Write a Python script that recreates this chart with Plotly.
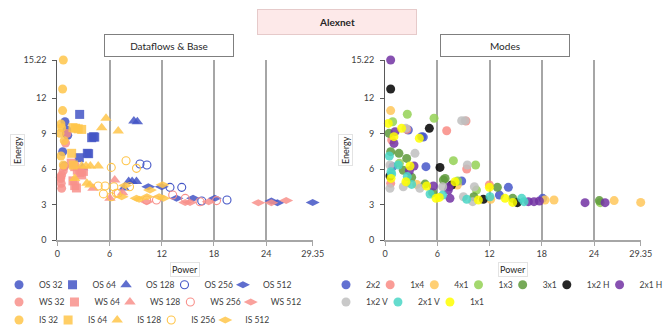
import plotly.graph_objects as go

# ---------------- Left panel: Dataflows & Base ----------------
os32_x = [0.88, 1.1, 1.2, 1.05, 0.62, 0.8]
os32_y = [10.0, 9.3, 8.85, 9.0, 7.46, 6.25]
os64_x = [2.57, 3.95, 4.14, 4.3, 3.45, 3.6, 2.53]
os64_y = [10.62, 8.65, 8.73, 8.7, 7.33, 7.3, 6.96]
os128_x = [8.8, 9.2, 8.2, 8.6, 9.1, 7.66, 2.9]
os128_y = [10.06, 10.0, 4.95, 4.95, 4.95, 4.4, 6.1]
os256_x = [9.5, 10.3, 12.95, 14.3, 16.6, 19.5]
os256_y = [6.43, 6.34, 4.45, 4.45, 3.3, 3.38]
os512_x = [10.46, 12.0, 13.7, 15.6, 18.1, 24.6, 25.3, 29.35]
os512_y = [4.5, 4.5, 3.52, 3.52, 3.52, 3.3, 3.16, 3.18]

ws32_x = [1.1, 0.95, 0.5, 0.45, 0.4, 0.5, 0.69, 0.8, 0.35]
ws32_y = [9.0, 8.2, 4.37, 4.79, 5.2, 5.5, 5.86, 6.2, 5.3]
ws64_x = [1.6, 2.0, 2.3, 2.6, 1.8, 2.0, 2.2, 2.8, 3.0]
ws64_y = [6.5, 6.2, 5.9, 5.7, 5.0, 4.6, 4.4, 5.5, 5.8]
ws128_x = [4.1, 6.6, 6.05, 7.5]
ws128_y = [4.37, 5.07, 3.52, 4.0]
ws256_x = [13.26, 14.7, 10.27, 11.4, 16.4, 18.3, 7.0]
ws256_y = [3.8, 3.52, 3.38, 3.38, 3.24, 3.33, 3.95]
ws512_x = [10.27, 14.7, 15.25, 17.4, 23.1, 24.6, 26.3]
ws512_y = [3.24, 3.18, 3.18, 3.24, 3.16, 3.16, 3.33]

is32_x = [0.69, 0.61, 0.61, 0.42, 0.31, 0.8, 0.42, 0.69, 0.5]
is32_y = [15.22, 12.77, 10.94, 9.81, 9.02, 8.4, 7.1, 6.34, 9.5]
is64_x = [1.8, 2.1, 2.4, 2.8, 1.65, 1.84]
is64_y = [9.5, 9.45, 9.4, 9.35, 7.33, 6.34]
is128_x = [5.6, 5.1, 7.0, 2.8, 3.3, 3.8, 4.7, 2.0, 3.4, 3.75]
is128_y = [10.29, 9.5, 9.21, 6.25, 6.25, 6.25, 6.25, 5.2, 4.8, 4.65]
is256_x = [4.7, 5.3, 5.5, 6.2, 6.5, 6.2, 7.9, 9.1, 8.3, 6.8]
is256_y = [4.57, 3.9, 4.57, 3.66, 4.5, 6.14, 6.7, 6.06, 4.5, 3.95]
is512_x = [7.4, 9.1, 9.4, 10.3, 10.65, 12.1, 12.2, 11.7, 7.8]
is512_y = [3.66, 3.52, 3.44, 3.66, 4.22, 4.68, 3.52, 3.66, 4.6]

# ---------------- Right panel: Modes ----------------
m2x2_x = [2.68, 4.21, 4.7, 0.88, 8.8, 14.16, 13.13, 18.1, 4.4]
m2x2_y = [9.3, 8.74, 6.2, 6.2, 4.99, 4.45, 3.8, 3.52, 8.7]
m1x4_x = [9.3, 7.08, 2.5, 0.77, 9.38, 0.65, 11.98]
m1x4_y = [10.06, 9.24, 9.35, 8.46, 6.0, 4.79, 4.65]
m4x1_x = [0.65, 2.5, 3.64, 8.3, 12.13, 18.37, 19.4, 26.3, 29.35]
m4x1_y = [10.94, 4.85, 4.7, 4.65, 3.44, 3.38, 3.38, 3.33, 3.18]
m1x3_x = [2.56, 5.63, 0.88, 1.65, 7.85, 10.4, 8.34, 10.5, 24.7]
m1x3_y = [10.63, 10.29, 10.0, 6.48, 6.71, 6.34, 4.99, 4.22, 3.16]
m3x1_x = [0.46, 0.65, 1.6, 2.49, 2.1, 3.06, 4.6, 5.47, 6.7, 6.9, 10.2, 12.9, 14.66, 24.6]
m3x1_y = [9.02, 7.47, 7.33, 6.9, 5.9, 5.3, 4.73, 4.0, 5.07, 5.21, 3.66, 4.45, 3.52, 3.33]
m1x2h_x = [0.65, 5.09, 6.31, 0.57, 7.65, 11.29, 15.19]
m1x2h_y = [12.77, 9.44, 6.14, 5.41, 4.65, 3.44, 3.16]
m2x1h_x = [0.65, 1.15, 1.03, 3.33, 2.8, 5.55, 7.27, 7.39, 7.46, 16.46, 17.1, 17.72, 22.96, 25.26]
m2x1h_y = [15.22, 9.16, 8.17, 6.26, 5.86, 4.57, 4.22, 4.5, 3.52, 3.24, 3.24, 3.3, 3.16, 3.16]
m1x2v_x = [8.8, 9.2, 2.4, 3.44, 0.57, 9.45, 0.57, 2.1, 4.0, 6.62, 9.0, 10.26, 10.07]
m1x2v_y = [10.09, 10.09, 9.44, 7.33, 6.34, 6.34, 4.37, 4.5, 4.37, 4.5, 3.66, 4.5, 3.24]
m2x1v_x = [0.5, 1.53, 0.69, 0.77, 2.56, 3.06, 5.17, 6.62, 9.38, 12.05, 15.69, 15.96]
m2x1v_y = [7.1, 6.34, 5.78, 5.58, 5.36, 4.7, 3.89, 3.8, 3.44, 3.66, 3.52, 3.24]
m1x1_x = [0.38, 1.91, 1.03, 3.94, 2.87, 0.69, 2.4, 4.78, 5.86, 6.24, 8.04, 10.72, 11.98, 13.78, 14.66]
m1x1_y = [9.86, 9.44, 8.74, 8.6, 6.26, 5.21, 4.93, 4.57, 3.52, 3.6, 4.93, 3.38, 4.45, 3.52, 3.18]

# ticks
x_ticks = [0, 6, 12, 18, 24, 29.35]
x_ticktext = ["0", "6", "12", "18", "24", "29.35"]
y_ticks = [0, 3, 6, 9, 12, 15.22]
y_ticktext = ["0", "3", "6", "9", "12", "15.22"]

FONT = "Lato, 'Liberation Sans', sans-serif"
C_OS, C_WS, C_IS = "#4355c6", "#f8918b", "#ffc54a"

fig = go.Figure()

def add(name, x, y, sym, color, size, legend, xa, ya, open_=False):
    if open_:
        marker = dict(symbol=sym, size=size, color=color, line=dict(color=color, width=1.1))
    else:
        marker = dict(symbol=sym, size=size, color=color, opacity=0.85, line=dict(width=0))
    fig.add_trace(go.Scatter(x=x, y=y, mode="markers", name=name, marker=marker,
                             legend=legend, xaxis=xa, yaxis=ya, cliponaxis=False))

left = [
    ("OS 32", os32_x, os32_y, "circle", C_OS, 9, False, "legend"),
    ("OS 64", os64_x, os64_y, "square", C_OS, 9, False, "legend"),
    ("OS 128", os128_x, os128_y, "triangle-up", C_OS, 10, False, "legend"),
    ("OS 256", os256_x, os256_y, "circle-open", C_OS, 8, True, "legend"),
    ("OS 512", os512_x, os512_y, "diamond-wide", C_OS, 10, False, "legend"),
    ("WS 32", ws32_x, ws32_y, "circle", C_WS, 9, False, "legend2"),
    ("WS 64", ws64_x, ws64_y, "square", C_WS, 9, False, "legend2"),
    ("WS 128", ws128_x, ws128_y, "triangle-up", C_WS, 10, False, "legend2"),
    ("WS 256", ws256_x, ws256_y, "circle-open", C_WS, 8, True, "legend2"),
    ("WS 512", ws512_x, ws512_y, "diamond-wide", C_WS, 10, False, "legend2"),
    ("IS 32", is32_x, is32_y, "circle", C_IS, 9, False, "legend3"),
    ("IS 64", is64_x, is64_y, "square", C_IS, 9, False, "legend3"),
    ("IS 128", is128_x, is128_y, "triangle-up", C_IS, 10, False, "legend3"),
    ("IS 256", is256_x, is256_y, "circle-open", C_IS, 8, True, "legend3"),
    ("IS 512", is512_x, is512_y, "diamond-wide", C_IS, 10, False, "legend3"),
]
for n, x, y, s, c, sz, o, lg in left:
    add(n, x, y, s, c, sz, lg, "x", "y", o)

right = [
    ("2x2", m2x2_x, m2x2_y, "#4657c9", "legend4"),
    ("1x4", m1x4_x, m1x4_y, "#f98b84", "legend4"),
    ("4x1", m4x1_x, m4x1_y, "#ffc75a", "legend4"),
    ("1x3", m1x3_x, m1x3_y, "#94d155", "legend4"),
    ("3x1", m3x1_x, m3x1_y, "#5e9a3b", "legend4"),
    ("1x2 H", m1x2h_x, m1x2h_y, "#000000", "legend4"),
    ("2x1 H", m2x1h_x, m2x1h_y, "#7232a3", "legend4"),
    ("1x2 V", m1x2v_x, m1x2v_y, "#bfbfbf", "legend5"),
    ("2x1 V", m2x1v_x, m2x1v_y, "#4ad6c6", "legend5"),
    ("1x1", m1x1_x, m1x1_y, "#ffff00", "legend5"),
]
for n, x, y, c, lg in right:
    add(n, x, y, "circle", c, 9, lg, "x2", "y2")

# the page body has an 8px margin: figure is sized to fit the window exactly
OFF = 8
W, H = 671 - OFF, 326 - OFF
def px(v): return (v - OFF) / W
def py(v): return 1 - (v - OFF) / H

xax = dict(range=[0, 29.35], tickvals=x_ticks, ticktext=x_ticktext, showgrid=True,
           gridcolor="#a6a6a6", gridwidth=1.5, zeroline=False, showline=True,
           linecolor="#a6a6a6", linewidth=2, ticks="outside", ticklen=4, tickcolor="#a6a6a6",
           tickfont=dict(size=9, color="#404040", family=FONT), fixedrange=True)
yax = dict(range=[0, 15.22], tickvals=y_ticks, ticktext=y_ticktext, showgrid=False,
           zeroline=False, showline=True, linecolor="#595959", linewidth=1, ticks="outside",
           ticklen=4, tickcolor="#595959", tickfont=dict(size=9, color="#404040", family=FONT),
           ticklabelstandoff=4, fixedrange=True)

leg_common = dict(orientation="h", xanchor="left", yanchor="middle", bgcolor="rgba(0,0,0,0)",
                  font=dict(size=8.5, family=FONT, color="#404040"), itemsizing="trace",
                  indentation=-15, tracegroupgap=0)

fig.update_layout(
    width=W, height=H, margin=dict(l=0, r=0, t=0, b=0, autoexpand=False),
    paper_bgcolor="white", plot_bgcolor="white",
    font=dict(family=FONT, size=9, color="#404040"),
    xaxis=dict(domain=[px(57.3), px(312.7)], anchor="y", **xax),
    yaxis=dict(domain=[py(240), py(60)], anchor="x", **yax),
    xaxis2=dict(domain=[px(385), px(640.7)], anchor="y2", **xax),
    yaxis2=dict(domain=[py(240), py(60)], anchor="x2", **yax),
    legend=dict(x=px(14), y=py(284.7), **leg_common),
    legend2=dict(x=px(14), y=py(302), **leg_common),
    legend3=dict(x=px(14), y=py(320), **leg_common),
    legend4=dict(x=px(341), y=py(284.7), **leg_common),
    legend5=dict(x=px(341), y=py(302), **leg_common),
    showlegend=True,
)

ann = []
ann.append(dict(text="<b>Alexnet</b>", x=px(337), y=py(22), xref="paper", yref="paper",
                showarrow=False, xanchor="center", yanchor="middle", width=158, height=24,
                bgcolor="#fde9e9", bordercolor="#e6caca", borderwidth=1, borderpad=0,
                font=dict(size=10, color="#262626", family=FONT)))
for t, cx in [("Dataflows &amp; Base", 169), ("Modes", 505)]:
    ann.append(dict(text=t, x=px(cx), y=py(45.5), xref="paper", yref="paper", showarrow=False,
                    xanchor="center", yanchor="middle", width=128, height=21, bgcolor="white",
                    bordercolor="#7f7f7f", borderwidth=1, borderpad=0,
                    font=dict(size=10, color="#262626", family=FONT)))
for cx in [17, 345]:
    ann.append(dict(text="Energy", x=px(cx), y=py(150), xref="paper", yref="paper",
                    showarrow=False, textangle=-90, xanchor="center", yanchor="middle",
                    bordercolor="#e3e3e3", borderwidth=1, borderpad=1,
                    font=dict(size=9, color="#262626", family=FONT)))
for cx in [185, 513]:
    ann.append(dict(text="Power", x=px(cx), y=py(269), xref="paper", yref="paper",
                    showarrow=False, xanchor="center", yanchor="middle",
                    bordercolor="#e3e3e3", borderwidth=1, borderpad=1,
                    font=dict(size=9, color="#262626", family=FONT)))
fig.update_layout(annotations=ann)

fig.write_html("out.html")
